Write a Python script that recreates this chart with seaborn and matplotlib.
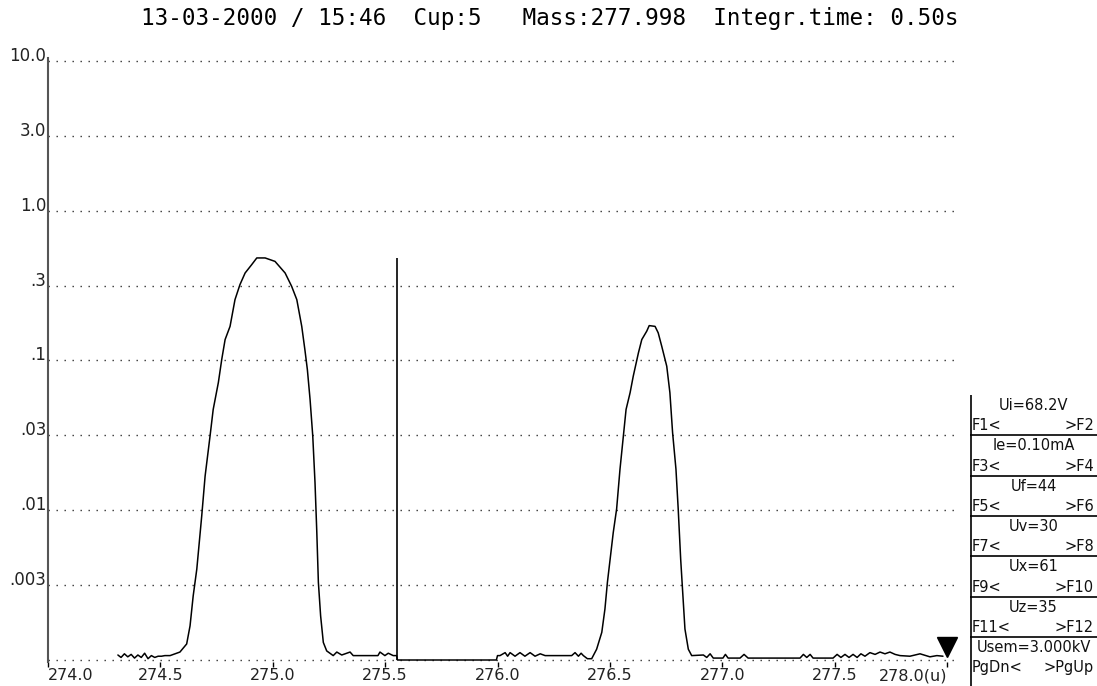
import numpy as np
import pandas as pd
import matplotlib
matplotlib.use("Agg")
import matplotlib.pyplot as plt
import seaborn as sns

# ---------------- data ----------------
title_text = "13-03-2000 / 15:46  Cup:5   Mass:277.998  Integr.time: 0.50s"

mass = [
    274.311, 274.325, 274.340, 274.355, 274.370, 274.385, 274.400, 274.415,
    274.430, 274.445, 274.460, 274.475, 274.490, 274.505, 274.520, 274.535,
    274.543, 274.587, 274.617, 274.632, 274.646, 274.662, 274.684, 274.699,
    274.721, 274.735, 274.758, 274.773, 274.788, 274.810, 274.832, 274.854,
    274.877, 274.906, 274.929, 274.966, 275.010, 275.055, 275.084, 275.107,
    275.129, 275.143, 275.154, 275.166, 275.178, 275.188, 275.196, 275.203,
    275.213, 275.225, 275.240, 275.269, 275.285, 275.307, 275.344, 275.358,
    275.468, 275.477, 275.499, 275.514, 275.536, 275.551,
    275.555, 275.995,
    276.000, 276.011, 276.034, 276.045, 276.056, 276.078, 276.100, 276.122,
    276.145, 276.167, 276.190, 276.212, 276.330, 276.345, 276.360, 276.372,
    276.382, 276.400, 276.419,
    276.441, 276.464, 276.478, 276.489, 276.501, 276.515, 276.530, 276.545,
    276.560, 276.572, 276.590, 276.604, 276.627, 276.642, 276.664, 276.675,
    276.701, 276.715, 276.731, 276.753, 276.767, 276.779, 276.794, 276.804,
    276.815, 276.824, 276.834, 276.849, 276.864,
    276.916, 276.931, 276.946, 276.960, 277.003, 277.014, 277.026, 277.043,
    277.079, 277.097, 277.115, 277.346, 277.361, 277.376, 277.391, 277.404,
    277.493, 277.511, 277.528, 277.546, 277.564, 277.582, 277.600, 277.617,
    277.635, 277.657, 277.680, 277.702, 277.724, 277.746, 277.769, 277.791,
    277.835, 277.880, 277.924, 277.955, 277.982,
]

intensity = [
    0.00108, 0.00104, 0.00110, 0.00105, 0.00109, 0.00103, 0.00108, 0.00104,
    0.00111, 0.00102, 0.00107, 0.00104, 0.00106, 0.00106, 0.00107, 0.00107,
    0.00107, 0.00113, 0.00128, 0.00169, 0.00268, 0.00404, 0.00917, 0.0169,
    0.0313, 0.0471, 0.0713, 0.1016, 0.138, 0.169, 0.255, 0.321,
    0.384, 0.436, 0.484, 0.484, 0.459, 0.384, 0.313, 0.255,
    0.169, 0.118, 0.087, 0.055, 0.0313, 0.0153, 0.00713, 0.0033,
    0.00197, 0.00131, 0.00115, 0.00107, 0.00113, 0.00108, 0.00113, 0.00107,
    0.00107, 0.00113, 0.00107, 0.00111, 0.00107, 0.00107,
    0.00100, 0.00100,
    0.00107, 0.00107, 0.00112, 0.00106, 0.00112, 0.00106, 0.00112, 0.00106,
    0.00112, 0.00106, 0.00110, 0.00107, 0.00107, 0.00112, 0.00106, 0.00111,
    0.00107, 0.00102, 0.00102,
    0.00118, 0.00153, 0.00219, 0.0033, 0.00471, 0.0071, 0.0102, 0.0188,
    0.0313, 0.0471, 0.061, 0.0786, 0.1125, 0.138, 0.157, 0.171,
    0.169, 0.153, 0.124, 0.0916, 0.061, 0.033, 0.0188, 0.0102,
    0.00471, 0.00283, 0.00161, 0.00118, 0.00107,
    0.00108, 0.00104, 0.00110, 0.00103, 0.00103, 0.00109, 0.00103, 0.00103,
    0.00103, 0.00109, 0.00103, 0.00103, 0.00109, 0.00104, 0.00109, 0.00103,
    0.00103, 0.00109, 0.00104, 0.00109, 0.00104, 0.00109, 0.00104, 0.00110,
    0.00106, 0.00112, 0.00109, 0.00113, 0.00110, 0.00113, 0.00109, 0.00107,
    0.00106, 0.00110, 0.00105, 0.00107, 0.00106,
]

cursor_mass = 275.553
cursor_top = 0.486
floor_level = 0.001
marker_mass = 278.0
marker_level = 0.00123

x_ticks = [274.0, 274.5, 275.0, 275.5, 276.0, 276.5, 277.0, 277.5, 278.0]
x_tick_labels = ["274.0", "274.5", "275.0", "275.5", "276.0", "276.5",
                 "277.0", "277.5", "278.0(u)"]
y_tick_exponents = [1.0, 0.5, 0.0, -0.5, -1.0, -1.5, -2.0, -2.5, -3.0]
y_tick_labels = ["10.0", "3.0", "1.0", ".3", ".1", ".03", ".01", ".003", ""]

panel_values = ["Ui=68.2V", "Ie=0.10mA", "Uf=44", "Uv=30", "Ux=61", "Uz=35",
                "Usem=3.000kV"]
panel_left = ["F1<", "F3<", "F5<", "F7<", "F9<", "F11<", "PgDn<"]
panel_right = [">F2", ">F4", ">F6", ">F8", ">F10", ">F12", ">PgUp"]

# ---------------- style ----------------
sns.set_theme(style="white")
plt.rcParams["font.family"] = ["DejaVu Sans"]

W, H = 1097, 686
fig = plt.figure(figsize=(W / 100, H / 100), dpi=100)
fig.patch.set_facecolor("white")

# main axes (pixel layout)
ax_l, ax_r, ax_t, ax_b = 48, 956, 58, 661.5
ax = fig.add_axes([ax_l / W, (H - ax_b) / H, (ax_r - ax_l) / W, (ax_b - ax_t) / H])
ax.set_facecolor("white")

df = pd.DataFrame({"mass": mass, "intensity": intensity})
sns.lineplot(data=df, x="mass", y="intensity", sort=False, estimator=None,
             color="black", linewidth=1.1, ax=ax, clip_on=False)
ax.set_yscale("log")
ax.set_xlim(274.0, 278.04)
ax.set_ylim(10 ** -3.01, 10 ** 1.02)

ax.vlines(cursor_mass, floor_level, cursor_top, color="black", linewidth=1.2)
ax.plot([marker_mass], [marker_level], marker="v", markersize=15,
        color="black", linestyle="none", clip_on=False)

ax.set_xlabel("")
ax.set_ylabel("")

ax.set_yticks([10 ** e for e in y_tick_exponents])
ax.set_yticklabels(y_tick_labels)
ax.yaxis.set_minor_locator(matplotlib.ticker.NullLocator())
ax.tick_params(axis="y", length=0, pad=1.2, labelsize=12, labelcolor="#222222")
for lab in ax.get_yticklabels():
    lab.set_verticalalignment("baseline")

ax.set_xticks(x_ticks)
ax.set_xticklabels(x_tick_labels)
ax.tick_params(axis="x", direction="out", length=3.5, width=1.0, color="black",
               pad=1.5, labelsize=11.5, labelcolor="#222222", bottom=True)
xl = ax.get_xticklabels()
xl[0].set_horizontalalignment("left")
xl[-1].set_horizontalalignment("right")

ax.yaxis.grid(True, linestyle=(0, (1, 4.76)), color="#333333", linewidth=1.0)
ax.xaxis.grid(False)

for side in ["top", "right", "bottom"]:
    ax.spines[side].set_visible(False)
ax.spines["left"].set_color("#555555")
ax.spines["left"].set_linewidth(1.5)

# title
fig.text(550 / W, 1 - 25 / H, title_text, family="DejaVu Sans Mono",
         fontsize=16.3, ha="center", va="baseline", color="black")

# right panel
p_left, p_top = 970, 395
pax = fig.add_axes([p_left / W, 0, (W - p_left) / W, (H - p_top) / H])
pax.set_xlim(0, W - p_left)
pax.set_ylim(H - p_top, 0)
pax.axis("off")
pax.axvline(0.5, color="black", linewidth=1.2)
box_h = 40.3
for i, (v, l, r) in enumerate(zip(panel_values, panel_left, panel_right)):
    top = i * box_h
    if i > 0:
        pax.axhline(top, color="black", linewidth=1.2)
    pax.text((W - p_left) / 2, top + 10.5, v, ha="center", va="center",
             fontsize=10.5, color="#111111")
    pax.text(2, top + 31.0, l, ha="left", va="center", fontsize=10.5,
             color="#111111")
    pax.text(W - p_left - 3, top + 31.0, r, ha="right", va="center",
             fontsize=10.5, color="#111111")

fig.savefig("out.png", dpi=100, facecolor="white")
